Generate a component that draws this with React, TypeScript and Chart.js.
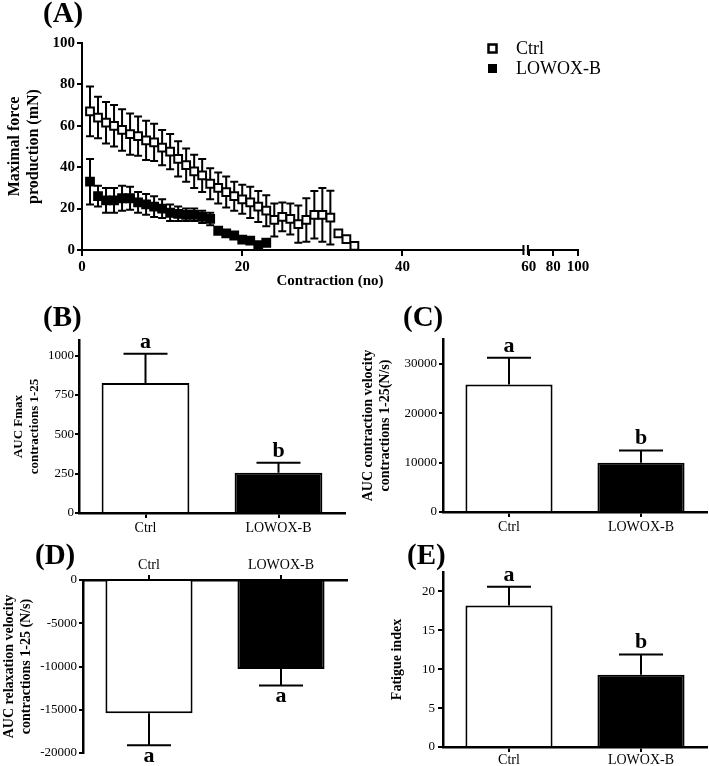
import React, { useEffect, useRef } from 'react';
import { Chart, registerables } from 'chart.js';

Chart.register(...registerables);

const SERIF = "'Liberation Serif', 'Times New Roman', Times, serif";

// ---------------- Panel A data ----------------
const ctrlContractions = [1, 2, 3, 4, 5, 6, 7, 8, 9, 10, 11, 12, 13, 14, 15, 16, 17, 18, 19, 20, 21, 22, 23, 24, 25, 26, 27, 28, 29, 30, 31, 32, 33, 34];
const ctrlForce = [67, 64, 61.5, 60, 58, 56, 55, 53, 52, 49.5, 47.5, 44, 41, 38, 36, 32, 30, 28, 26, 24.5, 23, 21, 19, 14.5, 16, 15, 12.5, 14.5, 17, 17, 15.6, 8, 5.3, 2];
const ctrlForceSem = [12, 10, 10, 10, 10, 10, 9.5, 9.5, 9, 8.5, 8.5, 8.5, 8, 8, 8, 7.5, 7.5, 7.5, 7, 7, 7.5, 7.5, 7.5, 8, 7, 7.5, 9, 10.5, 11.5, 13, 13, 0, 0, 0];
const lowoxContractions = [1, 2, 3, 4, 5, 6, 7, 8, 9, 10, 11, 12, 13, 14, 15, 16, 17, 18, 19, 20, 21, 22, 23];
const lowoxForce = [33, 26, 24, 24, 25, 25, 23, 22, 21, 20, 18, 17.5, 17, 17, 16, 15, 9.3, 8, 7, 5, 4.5, 2.4, 3.5];
const lowoxForceSem = [11, 5, 6, 6, 6, 5.5, 5, 5, 5, 4.5, 4, 3.5, 3, 3, 3, 3, 0, 0, 0, 0, 0, 0, 0];
const xTicksA = [0, 20, 40, 60, 80, 100];
const yTicksA = [0, 20, 40, 60, 80, 100];

// ---------------- Bar panels data ----------------
const groups = ['Ctrl', 'LOWOX-B'];

const aucFmax = [826, 256];
const aucFmaxSem = [187, 64];
const aucFmaxLetters = ['a', 'b'];
const aucFmaxTicks = [0, 250, 500, 750, 1000];

const aucContraction = [25800, 9950];
const aucContractionSem = [5400, 2500];
const aucContractionLetters = ['a', 'b'];
const aucContractionTicks = [0, 10000, 20000, 30000];

const aucRelaxation = [-15400, -10300];
const aucRelaxationSem = [3700, 1900];
const aucRelaxationLetters = ['a', 'a'];
const aucRelaxationTicks = [-20000, -15000, -10000, -5000, 0];

const fatigueIndex = [18.2, 9.3];
const fatigueIndexSem = [2.4, 2.6];
const fatigueLetters = ['a', 'b'];
const fatigueTicks = [0, 5, 10, 15, 20];

// broken x axis for panel A: 0..55 linear, 60..100 compressed
const BREAK_FROM = 55.1;
const BREAK_TO = 55.66;
function toAxis(v: number): number {
  if (v <= 55) return v;
  return 55.75 + (v - 60) * 0.154;
}

// ---------------- plugins ----------------
function drawErrors(chart: any, kind: string) {
  const ctx = chart.ctx;
  const yScale = chart.scales.y;
  chart.data.datasets.forEach((ds: any, di: number) => {
    const errs = ds.errorBars;
    if (!errs) return;
    const meta = chart.getDatasetMeta(di);
    if (meta.type !== kind) return;
    const half = (ds.errorCap || 8) / 2;
    ctx.save();
    ctx.strokeStyle = '#000';
    ctx.lineWidth = 2;
    meta.data.forEach((el: any, i: number) => {
      const e = errs[i];
      if (!e) return;
      const raw = ds.data[i];
      const v = typeof raw === 'number' ? raw : raw.y;
      const x = el.x;
      ctx.beginPath();
      if (kind === 'bar') {
        const end = v + Math.sign(v) * e;
        const py0 = yScale.getPixelForValue(v);
        const py1 = yScale.getPixelForValue(end);
        ctx.moveTo(x, py0);
        ctx.lineTo(x, py1);
        ctx.moveTo(x - half, py1);
        ctx.lineTo(x + half, py1);
      } else {
        const pLo = yScale.getPixelForValue(v - e);
        const pHi = yScale.getPixelForValue(v + e);
        ctx.moveTo(x, pLo);
        ctx.lineTo(x, pHi);
        ctx.moveTo(x - half, pLo);
        ctx.lineTo(x + half, pLo);
        ctx.moveTo(x - half, pHi);
        ctx.lineTo(x + half, pHi);
      }
      ctx.stroke();
    });
    ctx.restore();
  });
}

const errorBarPlugin = {
  id: 'errorBars',
  beforeDatasetsDraw(chart: any) {
    drawErrors(chart, 'scatter');
  },
  afterDatasetsDraw(chart: any) {
    drawErrors(chart, 'bar');
  },
};

const letterPlugin = {
  id: 'sigLetters',
  afterDatasetsDraw(chart: any, _args: any, opts: any) {
    if (!opts || !opts.letters) return;
    const ctx = chart.ctx;
    const ds = chart.data.datasets[0];
    const meta = chart.getDatasetMeta(0);
    const yScale = chart.scales.y;
    const size = 22;
    ctx.save();
    ctx.font = `bold ${size}px ${SERIF}`;
    ctx.fillStyle = '#000';
    ctx.textAlign = 'center';
    ctx.textBaseline = 'alphabetic';
    meta.data.forEach((el: any, i: number) => {
      const v = ds.data[i];
      const e = ds.errorBars[i];
      const end = v + Math.sign(v) * e;
      const py = yScale.getPixelForValue(end);
      if (v >= 0) ctx.fillText(opts.letters[i], el.x, py - 6);
      else ctx.fillText(opts.letters[i], el.x, py + 6 + size * 0.47);
    });
    ctx.restore();
  },
};

const panelLabelPlugin = {
  id: 'panelLabel',
  afterDraw(chart: any, _args: any, opts: any) {
    if (!opts || !opts.text) return;
    const ctx = chart.ctx;
    ctx.save();
    ctx.font = `bold ${opts.size || 29}px ${SERIF}`;
    ctx.fillStyle = '#000';
    ctx.textAlign = 'left';
    ctx.textBaseline = 'top';
    ctx.fillText(opts.text, opts.x, opts.y);
    ctx.restore();
  },
};

const squareLegendPlugin = {
  id: 'squareLegend',
  afterDraw(chart: any, _args: any, opts: any) {
    const ctx = chart.ctx;
    ctx.save();
    ctx.font = `18px ${SERIF}`;
    ctx.textBaseline = 'middle';
    ctx.textAlign = 'left';
    chart.data.datasets.forEach((ds: any, i: number) => {
      const cy = opts.y + i * opts.gap;
      const s = 9;
      ctx.fillStyle = ds.backgroundColor;
      ctx.fillRect(opts.x - s / 2, cy - s / 2, s, s);
      ctx.strokeStyle = '#000';
      ctx.lineWidth = 2.5;
      if (ds.backgroundColor !== '#000') ctx.strokeRect(opts.x - s / 2 + 0.5, cy - s / 2 + 0.5, s - 1, s - 1);
      ctx.fillStyle = '#000';
      ctx.fillText(ds.label, opts.textX, cy + 1);
    });
    ctx.restore();
  },
};

const axisBreakPlugin = {
  id: 'axisBreak',
  afterDraw(chart: any) {
    const ctx = chart.ctx;
    const xs = chart.scales.x;
    const y = chart.chartArea.bottom;
    const p1 = xs.getPixelForValue(BREAK_FROM);
    const p2 = xs.getPixelForValue(BREAK_TO);
    ctx.save();
    ctx.fillStyle = '#fff';
    ctx.fillRect(p1 + 1, y - 3, p2 - p1 - 2, 6);
    ctx.strokeStyle = '#000';
    ctx.lineWidth = 2;
    ctx.beginPath();
    ctx.moveTo(p1, y - 5);
    ctx.lineTo(p1, y + 5);
    ctx.moveTo(p2, y - 5);
    ctx.lineTo(p2, y + 5);
    ctx.stroke();
    ctx.restore();
  },
};

// ---------------- configs ----------------
function buildPanelA(): any {
  return {
    type: 'scatter',
    data: {
      datasets: [
        {
          label: 'Ctrl',
          data: ctrlContractions.map((c, i) => ({ x: toAxis(c), y: ctrlForce[i] })),
          errorBars: ctrlForceSem,
          errorCap: 8,
          pointStyle: 'rect',
          pointRadius: 5.5,
          pointBorderWidth: 2,
          backgroundColor: '#fff',
          borderColor: '#000',
          showLine: false,
          clip: false,
        },
        {
          label: 'LOWOX-B',
          data: lowoxContractions.map((c, i) => ({ x: toAxis(c), y: lowoxForce[i] })),
          errorBars: lowoxForceSem,
          errorCap: 8,
          pointStyle: 'rect',
          pointRadius: 5.5,
          pointBorderWidth: 2,
          backgroundColor: '#000',
          borderColor: '#000',
          showLine: false,
          clip: false,
        },
      ],
    },
    options: {
      animation: false,
      responsive: false,
      devicePixelRatio: 1,
      layout: { padding: { top: 43, right: 131, left: 0, bottom: 0 } },
      plugins: {
        legend: { display: false },
        tooltip: { enabled: false },
        squareLegend: { x: 492.5, y: 48.5, gap: 20, textX: 516 },
        panelLabel: { text: '(A)', x: 43, y: 0, size: 29 },
      },
      scales: {
        x: {
          type: 'linear',
          min: 0,
          max: toAxis(100),
          afterBuildTicks: (s: any) => {
            s.ticks = xTicksA.map((v) => ({ value: toAxis(v) }));
          },
          afterFit: (s: any) => {
            s.height = 50;
          },
          grid: { display: true, drawOnChartArea: false, drawTicks: true, tickLength: 6, color: '#000', lineWidth: 2 },
          border: { display: true, color: '#000', width: 2 },
          ticks: {
            font: { family: SERIF, size: 15, weight: 'bold' },
            color: '#000',
            padding: 2,
            maxRotation: 0,
            autoSkip: false,
            callback: (_v: any, i: number) => String(xTicksA[i]),
          },
          title: {
            display: true,
            text: 'Contraction (no)',
            font: { family: SERIF, size: 15, weight: 'bold' },
            color: '#000',
            padding: { top: 0, bottom: 10 },
          },
        },
        y: {
          type: 'linear',
          min: 0,
          max: 100,
          afterBuildTicks: (s: any) => {
            s.ticks = yTicksA.map((v) => ({ value: v }));
          },
          afterFit: (s: any) => {
            s.width = 82;
          },
          grid: { display: true, drawOnChartArea: false, drawTicks: true, tickLength: 5, color: '#000', lineWidth: 2 },
          border: { display: true, color: '#000', width: 2 },
          ticks: {
            font: { family: SERIF, size: 15, weight: 'bold' },
            color: '#000',
            padding: 2,
            callback: (v: any) => String(v),
          },
          title: {
            display: true,
            text: ['Maximal force', 'production (mN)'],
            font: { family: SERIF, size: 16, weight: 'bold' },
            color: '#000',
            padding: { top: 5, bottom: 0 },
          },
        },
      },
    },
    plugins: [errorBarPlugin, axisBreakPlugin, squareLegendPlugin, panelLabelPlugin],
  };
}

function barChartConfig(p: any): any {
  return {
    type: 'bar',
    data: {
      labels: groups,
      datasets: [
        {
          data: p.values,
          errorBars: p.sems,
          errorCap: 44,
          backgroundColor: ['#fff', '#000'],
          borderColor: '#000',
          borderWidth: 2,
          borderSkipped: 'start',
          barPercentage: 0.66,
          categoryPercentage: 1,
        },
      ],
    },
    options: {
      animation: false,
      responsive: false,
      devicePixelRatio: 1,
      layout: { padding: p.padding },
      plugins: {
        legend: { display: false },
        tooltip: { enabled: false },
        sigLetters: { letters: p.letters },
        panelLabel: p.panel,
      },
      scales: {
        x: {
          type: 'category',
          position: p.xPosition,
          offset: true,
          afterFit: (s: any) => {
            s.height = p.xHeight;
          },
          grid: { display: true, drawOnChartArea: false, drawTicks: true, tickLength: 5, offset: false, color: '#000', lineWidth: 2 },
          border: { display: true, color: '#000', width: 2.5 },
          ticks: { font: { family: SERIF, size: 14 }, color: '#000', padding: p.xTickPad, maxRotation: 0, autoSkip: false },
        },
        y: {
          type: 'linear',
          min: p.min,
          max: p.max,
          afterBuildTicks: (s: any) => {
            s.ticks = p.ticks.map((v: number) => ({ value: v }));
          },
          afterFit: (s: any) => {
            s.width = p.yWidth;
          },
          grid: { display: true, drawOnChartArea: false, drawTicks: true, tickLength: p.yTickLength, color: '#000', lineWidth: 2 },
          border: { display: true, color: '#000', width: 2.5 },
          ticks: { font: { family: SERIF, size: 13 }, color: '#000', padding: p.yTickPad, callback: (v: any) => String(v) },
          title: {
            display: true,
            text: p.title,
            font: { family: SERIF, size: p.titleSize, weight: 'bold' },
            color: '#000',
            padding: { top: p.titlePad, bottom: 0 },
          },
        },
      },
    },
    plugins: [errorBarPlugin, letterPlugin, panelLabelPlugin],
  };
}

const buildPanelB = () =>
  barChartConfig({
    values: aucFmax,
    sems: aucFmaxSem,
    letters: aucFmaxLetters,
    ticks: aucFmaxTicks,
    min: 0,
    max: 1100,
    padding: { top: 40, right: 15, left: 0, bottom: 0 },
    xPosition: 'bottom',
    xHeight: 22,
    xTickPad: 2,
    yWidth: 79,
    yTickLength: 4,
    yTickPad: 1,
    title: ['AUC Fmax', 'contractions 1-25'],
    titleSize: 13,
    titlePad: 11,
    panel: { text: '(B)', x: 43, y: 4, size: 29 },
  });

const buildPanelC = () =>
  barChartConfig({
    values: aucContraction,
    sems: aucContractionSem,
    letters: aucContractionLetters,
    ticks: aucContractionTicks,
    min: 0,
    max: 35000,
    padding: { top: 39, right: 2, left: 0, bottom: 0 },
    xPosition: 'bottom',
    xHeight: 23,
    xTickPad: 2,
    yWidth: 83,
    yTickLength: 4,
    yTickPad: 2,
    title: ['AUC contraction velocity', 'contractions 1-25(N/s)'],
    titleSize: 14,
    titlePad: 0,
    panel: { text: '(C)', x: 43, y: 4, size: 29 },
  });

const buildPanelD = () =>
  barChartConfig({
    values: aucRelaxation,
    sems: aucRelaxationSem,
    letters: aucRelaxationLetters,
    ticks: aucRelaxationTicks,
    min: -20000,
    max: 0,
    padding: { top: 0, right: 13, left: 0, bottom: 13 },
    xPosition: 'top',
    xHeight: 45,
    xTickPad: 1,
    yWidth: 83,
    yTickLength: 4,
    yTickPad: 2,
    title: ['AUC relaxation velocity', 'contractions 1-25 (N/s)'],
    titleSize: 14,
    titlePad: 1,
    panel: { text: '(D)', x: 35, y: 7, size: 29 },
  });

const buildPanelE = () =>
  barChartConfig({
    values: fatigueIndex,
    sems: fatigueIndexSem,
    letters: fatigueLetters,
    ticks: fatigueTicks,
    min: 0,
    max: 22.5,
    padding: { top: 37, right: 2, left: 0, bottom: 0 },
    xPosition: 'bottom',
    xHeight: 19,
    xTickPad: 0,
    yWidth: 83,
    yTickLength: 5,
    yTickPad: 3,
    title: 'Fatigue index',
    titleSize: 14,
    titlePad: 29,
    panel: { text: '(E)', x: 47, y: 7, size: 29 },
  });

function ChartCanvas(props: { left: number; top: number; width: number; height: number; build: () => any }) {
  const ref = useRef<HTMLCanvasElement>(null);
  useEffect(() => {
    const chart = new Chart(ref.current as HTMLCanvasElement, props.build());
    return () => chart.destroy();
  }, []);
  return (
    <canvas
      ref={ref}
      width={props.width}
      height={props.height}
      style={{ position: 'absolute', left: props.left, top: props.top, width: props.width, height: props.height }}
    />
  );
}

export default function App() {
  return (
    <div style={{ position: 'absolute', left: 0, top: 0, width: 709, height: 766, background: '#fff', overflow: 'hidden' }}>
      <ChartCanvas left={0} top={0} width={709} height={300} build={buildPanelA} />
      <ChartCanvas left={0} top={300} width={360} height={235} build={buildPanelB} />
      <ChartCanvas left={360} top={300} width={349} height={235} build={buildPanelC} />
      <ChartCanvas left={0} top={535} width={360} height={231} build={buildPanelD} />
      <ChartCanvas left={360} top={535} width={349} height={231} build={buildPanelE} />
    </div>
  );
}
